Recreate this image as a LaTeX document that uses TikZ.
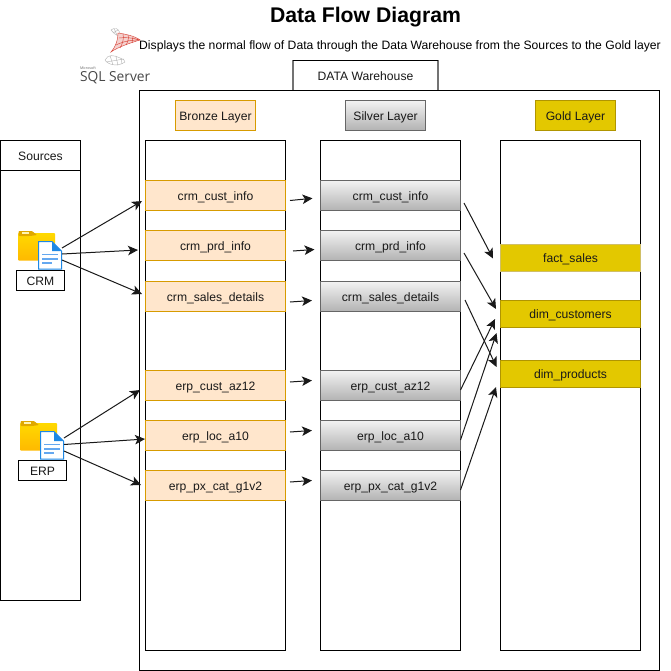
\documentclass[tikz,border=0pt]{standalone}
\usepackage{fontspec}
\setmainfont{Liberation Sans}
\newfontfamily\logofont{Open Sans}
\usetikzlibrary{arrows.meta}
\definecolor{bronzeF}{HTML}{FFE6CC}
\definecolor{bronzeD}{HTML}{D79B00}
\definecolor{goldF}{HTML}{E3C800}
\definecolor{goldD}{HTML}{B09500}
\definecolor{folderT}{HTML}{FFD900}
\definecolor{folderB}{HTML}{FFB900}
\definecolor{folderD}{HTML}{E0A800}
\definecolor{docB}{HTML}{1E88E5}
\definecolor{docL}{HTML}{64A8F0}
\definecolor{sqlred}{HTML}{D8453A}
\tikzset{
  every node/.style={outer sep=0pt},
  lbl/.style={font=\fontsize{12.15}{14}\selectfont,text height=9.5pt,text depth=0pt,inner sep=0pt},
  box/.style={lbl,draw=black,fill=white,line width=1pt,minimum width=#1,anchor=north west,text=black!90},
  bronze/.style={lbl,draw=bronzeD,fill=bronzeF,line width=1pt,minimum width=140pt,minimum height=30pt,anchor=north west,text=black!90},
  silver/.style={lbl,draw=black!60,top color=black!5,bottom color=black!30,line width=1pt,minimum width=140pt,minimum height=30pt,anchor=north west,text=black!90},
  gold/.style={lbl,draw=goldD,fill=goldF,line width=1pt,minimum width=140pt,minimum height=26.5pt,anchor=north west,text=black!90},
  flow/.style={draw=black!90,line width=1pt,-{Stealth[length=10pt,width=9.5pt,inset=2.5pt]}},
  folderbody/.style={top color=folderT,bottom color=folderB},
  doc/.style={draw=docB,fill=white,line width=1pt},
  docline/.style={draw=docL,line width=1.4pt},
  mesh/.style={draw=sqlred,line width=.45pt},
  meshgrey/.style={draw=black!28,line width=.45pt},
}
\begin{document}
\begin{tikzpicture}[x=1pt,y=-1pt]
\useasboundingbox (0,0) rectangle (670,671);
% titles
\node[font=\fontsize{21.2}{24}\selectfont\bfseries,anchor=base,inner sep=0pt] (title) at (365.5,23) {Data Flow Diagram};
\node[font=\fontsize{12.15}{14}\selectfont,inner sep=0pt,anchor=base] (sub) at (400,50) {Displays the normal flow of Data through the Data Warehouse from the Sources to the Gold layer};
% warehouse
\node[lbl,minimum width=145pt,minimum height=30pt,anchor=north west,fill=white,text=black!90] (dwt) at (293,60.5) {DATA Warehouse};
\draw[black!55,line width=1.4pt] (dwt.south west) -- (dwt.north west) (dwt.north east) -- (dwt.south east);
\draw[black,line width=1pt] (dwt.north west) -- (dwt.north east);
\node[box=520pt,minimum height=580pt] (dw) at (139.5,90.5) {};
% sources
\node[box=80pt,minimum height=460pt] (src) at (0.5,140.5) {};
\node[box=80pt,minimum height=30pt] (srct) at (0.5,140.5) {Sources};
% layer containers
\node[box=140pt,minimum height=510pt] (bc) at (145.5,140.5) {};
\node[box=140pt,minimum height=510pt] (sc) at (320.5,140.5) {};
\node[box=140pt,minimum height=510pt] (gc) at (500.5,140.5) {};
% layer headers
\node[bronze,minimum width=80pt] (bh) at (175.5,100.5) {Bronze Layer};
\node[silver,minimum width=80pt] (sh) at (345.5,100.5) {Silver Layer};
\node[gold,minimum width=80pt,minimum height=30pt] (gh) at (535.5,100.5) {Gold Layer};
% bronze tables
\node[bronze] (b1) at (145.5,180.5) {crm\_cust\_info};
\node[bronze] (b2) at (145.5,230.5) {crm\_prd\_info};
\node[bronze] (b3) at (145.5,281.5) {crm\_sales\_details};
\node[bronze] (b4) at (145.5,370.5) {erp\_cust\_az12};
\node[bronze] (b5) at (145.5,420.5) {erp\_loc\_a10};
\node[bronze] (b6) at (145.5,470.5) {erp\_px\_cat\_g1v2};
% silver tables
\node[silver] (s1) at (320.5,180.5) {crm\_cust\_info};
\node[silver] (s2) at (320.5,230.5) {crm\_prd\_info};
\node[silver] (s3) at (320.5,281.5) {crm\_sales\_details};
\node[silver] (s4) at (320.5,370.5) {erp\_cust\_az12};
\node[silver] (s5) at (320.5,420.5) {erp\_loc\_a10};
\node[silver] (s6) at (320.5,470.5) {erp\_px\_cat\_g1v2};
% gold tables
\node[gold,draw=goldD!60!white] (g1) at (500.5,244.75) {fact\_sales};
\node[gold] (g2) at (500.5,300.5) {dim\_customers};
\node[gold] (g3) at (500.5,360.5) {dim\_products};
% CRM icon
\shade[folderbody,rounded corners=.8pt] (18,233) rectangle (55,260.5);
\fill[folderD,rounded corners=.8pt] (18.5,236) -- (18.5,231) -- (32,231) -- (37,235) -- (30,236) -- cycle;
\fill[white!70!folderT] (22,232) rectangle (29,233.5);
\draw[doc] (38.5,241.5) -- (52,241.5) -- (61.5,251) -- (61.5,269) -- (38.5,269) -- cycle;
\fill[docB] (52,241.5) -- (61.5,251) -- (52,251) -- cycle;
\draw[docline] (42,254.5) -- (58,254.5) (42,259) -- (58,259) (42,263) -- (52,263);
\node[box=48pt,minimum height=20pt] (crm) at (16.5,270.5) {CRM};
% ERP icon
\shade[folderbody,rounded corners=.8pt] (20,423) rectangle (57,450.5);
\fill[folderD,rounded corners=.8pt] (20.5,426) -- (20.5,421) -- (34,421) -- (39,425) -- (32,426) -- cycle;
\fill[white!70!folderT] (24,422) rectangle (31,423.5);
\draw[doc] (40.5,431.5) -- (54,431.5) -- (63.5,441) -- (63.5,459) -- (40.5,459) -- cycle;
\fill[docB] (54,431.5) -- (63.5,441) -- (54,441) -- cycle;
\draw[docline] (44,444.5) -- (60,444.5) (44,449) -- (60,449) (44,453) -- (54,453);
\node[box=48pt,minimum height=20pt] (erp) at (18.5,460.5) {ERP};
% SQL Server logo
\node[font=\logofont\fontsize{3.6}{4}\selectfont,text=black!60,inner sep=0pt,anchor=base west] (ms) at (80,69.5) {Microsoft};
\node[font=\logofont\fontsize{13.8}{14}\selectfont,text=black!72,inner sep=0pt,anchor=base west] (sql) at (80,81.5) {SQL Server};
% logo mesh, grey top and bottom rings
\draw[meshgrey] (111,30) .. controls (115,27) and (118,28) .. (120,33)
                (111,30) .. controls (113,33) and (116,35) .. (120,37)
                (114,28.5) -- (117,35) (118,30) -- (113,33);
\draw[meshgrey] (105,60) .. controls (108,54) and (114,55) .. (120,58)
                (105,60) .. controls (108,65) and (118,67) .. (125,62)
                (120,58) .. controls (123,59) and (125,60) .. (125,62)
                (110,55.5) -- (113,65) (116,56.5) -- (118,65.5) (121,58) -- (122,64) (106,62) -- (124,59);
% logo mesh, red web
\fill[sqlred!25] (118,33) .. controls (125,34) and (135,36) .. (140,40) .. controls (130,43) and (118,47) .. (111,52) .. controls (116,46) and (118,40) .. (118,33) -- cycle;
\draw[mesh] (118,33) .. controls (125,34) and (135,36) .. (140,40) .. controls (130,43) and (118,47) .. (111,52) .. controls (116,46) and (118,40) .. (118,33) -- cycle;
\draw[mesh] (119,38) .. controls (126,37) and (133,38) .. (140,40)
            (116,45) .. controls (124,41) and (132,40) .. (140,40)
            (123,34) .. controls (124,38) and (123,43) .. (120,48)
            (128,35) .. controls (129,38) and (128,42) .. (126,45)
            (133,37) -- (132,43);
% connector endpoints
\coordinate (c1a) at (62,248); \coordinate (c1b) at (142,201);
\coordinate (c2a) at (62,254); \coordinate (c2b) at (138,250);
\coordinate (c3a) at (62,260); \coordinate (c3b) at (142,294);
\coordinate (e1a) at (64,438); \coordinate (e1b) at (140,390);
\coordinate (e2a) at (64,444.5); \coordinate (e2b) at (145,439);
\coordinate (e3a) at (64,451); \coordinate (e3b) at (141,485);
\draw[flow] (c1a) -- (c1b);
\draw[flow] (c2a) -- (c2b);
\draw[flow] (c3a) -- (c3b);
\draw[flow] (e1a) -- (e1b);
\draw[flow] (e2a) -- (e2b);
\draw[flow] (e3a) -- (e3b);
% bronze to silver
\coordinate (m1a) at (290,200.5); \coordinate (m1b) at (312.5,198.3);
\coordinate (m2a) at (293,251); \coordinate (m2b) at (314.5,249.5);
\coordinate (m3a) at (290,302); \coordinate (m3b) at (312,300.5);
\coordinate (m4a) at (290,382); \coordinate (m4b) at (312,380.5);
\coordinate (m5a) at (290,432); \coordinate (m5b) at (312,430.5);
\coordinate (m6a) at (290,482); \coordinate (m6b) at (312,480.5);
\foreach \i in {1,...,6} \draw[flow] (m\i a) -- (m\i b);
% silver to gold
\coordinate (h1a) at (464,203); \coordinate (h1b) at (493,258.5);
\coordinate (h2a) at (464,253); \coordinate (h2b) at (496,309);
\coordinate (h3a) at (465,300); \coordinate (h3b) at (496.5,367);
\coordinate (h4a) at (460.5,390); \coordinate (h4b) at (495,319);
\coordinate (h5a) at (460.5,440); \coordinate (h5b) at (496.5,333);
\coordinate (h6a) at (460.5,490); \coordinate (h6b) at (496,387);
\foreach \i in {1,...,6} \draw[flow] (h\i a) -- (h\i b);
\end{tikzpicture}
\end{document}
